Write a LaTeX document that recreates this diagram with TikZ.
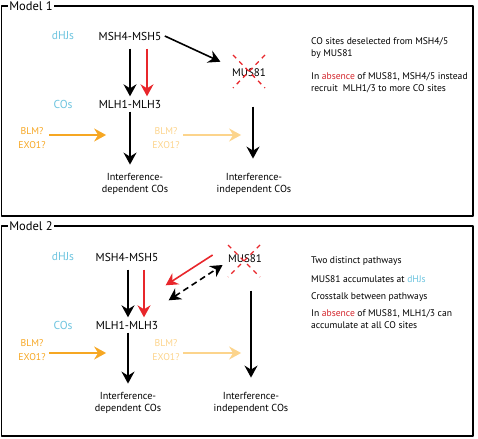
\documentclass[tikz,border=0pt]{standalone}
\usepackage{fontspec}
\setmainfont{PT Sans}
\usetikzlibrary{arrows.meta}
\definecolor{hjblue}{RGB}{109,196,223}
\definecolor{arrred}{RGB}{232,38,43}
\definecolor{absred}{RGB}{210,35,42}
\definecolor{blmorange}{RGB}{246,167,35}
\definecolor{blmlight}{RGB}{252,212,140}
\begin{document}
\begin{tikzpicture}[x=1pt, y=-1pt, line join=round,
	tip/.style={-{Stealth[length=12pt,width=13pt,inset=4pt]}},
	blk/.style={tip, line width=1.6pt, black},
	redarr/.style={tip, line width=1.6pt, arrred},
	orn/.style={tip, line width=1.6pt, blmorange},
	lorn/.style={tip, line width=1.6pt, blmlight},
	xmark/.style={arrred, line width=1.3pt, dash pattern=on 4.5pt off 4.5pt},
	frame/.style={line width=1.5pt},
	title/.style={font=\fontsize{12.5}{14}\selectfont, inner sep=1.5pt},
	main/.style={font=\fontsize{11.5}{13}\selectfont},
	tag/.style={main, hjblue},
	blm/.style={font=\fontsize{9.8}{13.5}\selectfont, align=center},
	outcome/.style={font=\fontsize{10.2}{12.5}\selectfont, align=center},
	note/.style={font=\fontsize{9.6}{12}\selectfont, align=left, anchor=west, inner sep=0pt}]
\useasboundingbox (0,0) rectangle (478,438);

% Model 1
\node[title] (m1) at (31,6) {Model 1};
\draw[frame] (m1.east) -- (473,6) -- (473,216) -- (1.5,216) -- (1.5,6) -- (m1.west);
\node[tag] (dhj1) at (63,36) {dHJs};
\node[main] (msh1) at (130,36) {MSH4-MSH5};
\node[tag] (co1) at (63,104) {COs};
\node[main] (mlh1) at (130,104) {MLH1-MLH3};
\node[main, font=\fontsize{11}{13}\selectfont] (mus1) at (249,73) {MUS81};
\draw[xmark] (233,55) -- (265,88) (265,55) -- (233,88);
\node[blm, blmorange] (blm1) at (32,138) {BLM?\\EXO1?};
\node[blm, blmlight] (blmb1) at (166,138) {BLM?\\EXO1?};
\node[outcome] (dep1) at (135,184) {Interference-\\dependent COs};
\node[outcome] (ind1) at (254,184) {Interference-\\independent COs};
\draw[blk, shorten <=5pt] (msh1.south) -- (mlh1.north);
\draw[redarr, shorten <=5pt] ([xshift=17pt]msh1.south) -- ([xshift=17pt]mlh1.north);
\draw[blk, shorten >=9pt] (msh1.east) -- (mus1.north west);
\draw[blk, shorten <=26pt, shorten >=11pt] ([xshift=4pt]mus1.south) -- ([xshift=4pt]mus1.south |- ind1.north);
\draw[blk, shorten >=5pt] (mlh1.south) -- (mlh1.south |- dep1.north);
\draw[orn] ([yshift=3pt]blm1.east) -- +(57,0);
\draw[lorn] ([yshift=3pt]blmb1.east) -- +(58,0);
\node[note] (n11) at (311,48) {CO sites deselected from MSH4/5\\by MUS81};
\node[note] (n12) at (311,83) {In \textcolor{absred}{absence} of MUS81, MSH4/5 instead\\recruit\ \ MLH1/3 to more CO sites};

% Model 2
\node[title] (m2) at (31,226) {Model 2};
\draw[frame] (m2.east) -- (473,226) -- (473,436) -- (1.5,436) -- (1.5,226) -- (m2.west);
\node[tag] (dhj2) at (63,257) {dHJs};
\node[main] (msh2) at (127,257) {MSH4-MSH5};
\node[tag] (co2) at (63,325) {COs};
\node[main] (mlh2) at (127,325) {MLH1-MLH3};
\node[main, font=\fontsize{11}{13}\selectfont] (mus2) at (245,259) {MUS81};
\draw[xmark] (228,245) -- (260,277) (260,245) -- (228,277);
\node[blm, blmorange] (blm2) at (32,350) {BLM?\\EXO1?};
\node[blm, blmlight] (blmb2) at (166,350) {BLM?\\EXO1?};
\node[outcome] (dep2) at (128,403) {Interference-\\dependent COs};
\node[outcome] (ind2) at (251,403) {Interference-\\independent COs};
\draw[blk, shorten <=5pt] ([xshift=1pt]msh2.south) -- ([xshift=1pt]mlh2.north);
\draw[redarr, shorten <=5pt] ([xshift=17pt]msh2.south) -- ([xshift=17pt]mlh2.north);
\draw[redarr] ([shift={(-12,-4)}]mus2.west) -- ([shift={(4,-32)}]mlh2.north east);
\draw[blk, dash pattern=on 6pt off 4pt, {Stealth[length=12pt,width=13pt,inset=4pt]}-{Stealth[length=12pt,width=13pt,inset=4pt]}] ([shift={(7,-17)}]mlh2.north east) -- ([shift={(-2,6)}]mus2.west);
\draw[blk, shorten <=24pt, shorten >=11pt] ([xshift=6pt]mus2.south) -- ([xshift=6pt]mus2.south |- ind2.north);
\draw[blk, shorten >=5pt] ([xshift=1pt]mlh2.south) -- ([xshift=1pt]mlh2.south |- dep2.north);
\draw[orn] ([yshift=-3pt]blm2.east) -- +(57,0);
\draw[lorn] ([yshift=-3pt]blmb2.east) -- +(58,0);
\node[note] (n21) at (311,261) {Two distinct pathways};
\node[note] (n22) at (311,279) {MUS81 accumulates at \textcolor{hjblue}{dHJs}};
\node[note] (n23) at (311,297) {Crosstalk between pathways};
\node[note] (n24) at (311,319) {In \textcolor{absred}{absence} of MUS81, MLH1/3 can\\accumulate at all CO sites};
\end{tikzpicture}
\end{document}
